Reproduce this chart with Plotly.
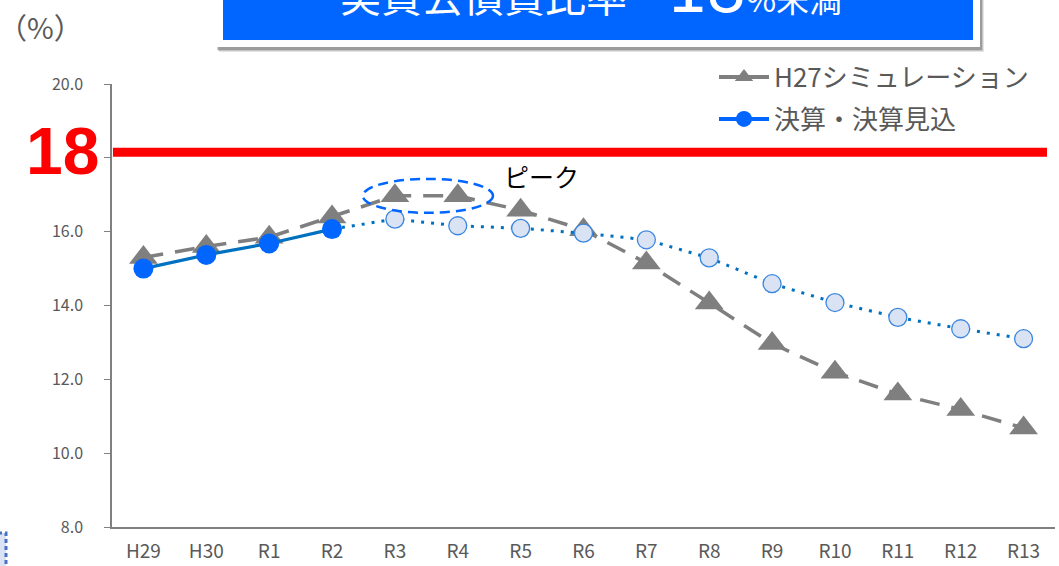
import plotly.graph_objects as go

# ---------------- data ----------------
categories = ["H29", "H30", "R1", "R2", "R3", "R4", "R5", "R6", "R7",
              "R8", "R9", "R10", "R11", "R12", "R13"]
sim_h27 = [15.3, 15.6, 15.85, 16.4, 16.97, 16.97, 16.58, 16.05, 15.15,
           14.07, 12.97, 12.19, 11.6, 11.18, 10.68]
kessan = [15.0, 15.37, 15.68, 16.07, 16.34, 16.16, 16.09, 15.96, 15.78,
          15.29, 14.59, 14.08, 13.68, 13.37, 13.1]
n_actual = 4           # H29..R2 are settled results; the rest are projections
limit_value = 18.15    # drawn "18" limit line
y_ticks = [8, 10, 12, 14, 16, 18, 20]
y_tick_text = [f"{v:.1f}" if v != 18 else "" for v in y_ticks]

name_sim = "H27シミュレーション"
name_kessan = "決算・決算見込"
title_text = "実質公債費比率"
unit_text = "（%）"
peak_text = "ピーク"

# ---------------- layout geometry ----------------
L, R, T, B = 112, 1055, 84, 527
W, H = 1059, 566


def px(x=None, y=None):
    """convert pixel position to paper coords"""
    xp = None if x is None else (x - L) / (R - L)
    yp = None if y is None else (B - y) / (B - T)
    return xp, yp


FONT = "Noto Sans CJK JP"
GREY_TXT = "#595959"

fig = go.Figure()

# H27 simulation (grey dashed, triangles)
fig.add_trace(go.Scatter(
    x=categories, y=sim_h27, mode="lines+markers",
    line=dict(color="#7f7f7f", width=3.5, dash="20px,12px"),
    marker=dict(symbol="triangle-up", size=25, color="#7f7f7f"),
    showlegend=False, cliponaxis=False))

# projection part of 決算 (dotted)
fig.add_trace(go.Scatter(
    x=categories[n_actual - 1:], y=kessan[n_actual - 1:], mode="lines",
    line=dict(color="#0070C0", width=3, dash="3px,7px"),
    showlegend=False, cliponaxis=False))
fig.add_trace(go.Scatter(
    x=categories[n_actual:], y=kessan[n_actual:], mode="markers",
    marker=dict(symbol="circle", size=18, color="#DAE3F3",
                line=dict(color="#3a86e0", width=1.3)),
    showlegend=False, cliponaxis=False))

# settled part of 決算 (solid)
fig.add_trace(go.Scatter(
    x=categories[:n_actual], y=kessan[:n_actual], mode="lines+markers",
    line=dict(color="#0070C0", width=3.2),
    marker=dict(symbol="circle", size=20, color="#0066FF"),
    showlegend=False, cliponaxis=False))

# legend-only entries
fig.add_trace(go.Scatter(
    x=[None], y=[None], mode="lines+markers", name=name_sim,
    line=dict(color="#7f7f7f", width=4),
    marker=dict(symbol="triangle-up", size=16, color="#7f7f7f"),
    legend="legend"))
fig.add_trace(go.Scatter(
    x=[None], y=[None], mode="lines+markers", name=name_kessan,
    line=dict(color="#0066FF", width=4),
    marker=dict(symbol="circle", size=16, color="#0066FF"),
    legend="legend2"))

shapes = []
annotations = []

# red limit line
shapes.append(dict(type="line", xref="paper", yref="y",
                   x0=0.001, x1=px(1047)[0], y0=limit_value, y1=limit_value,
                   line=dict(color="#FF0000", width=9), layer="above"))

# dashed ellipse around the peak
shapes.append(dict(type="circle", xref="x", yref="y",
                   x0=3.49, x1=5.56, y0=16.51, y1=17.43,
                   line=dict(color="#0066FF", width=2.5, dash="10px,6px"),
                   layer="above"))

# banner (shadow, white frame, blue box)
for off, op in [(4, 0.10), (3, 0.15), (2, 0.2)]:
    x0, y0 = px(215 + off, 48 + off)
    x1, _ = px(980 + off, 0)
    shapes.append(dict(type="rect", xref="paper", yref="paper",
                       x0=x0, x1=x1, y0=y0, y1=1.3, line_width=0,
                       fillcolor=f"rgba(0,0,0,{op})", layer="above"))
x0, y0 = px(215, 47)
x1, _ = px(980, 0)
shapes.append(dict(type="rect", xref="paper", yref="paper",
                   x0=x0, x1=x1, y0=y0, y1=1.3, line_width=0,
                   fillcolor="white", layer="above"))
x0, y0 = px(223, 40)
x1, _ = px(973, 0)
shapes.append(dict(type="rect", xref="paper", yref="paper",
                   x0=x0, x1=x1, y0=y0, y1=1.3, line_width=0,
                   fillcolor="#0066FF", layer="above"))

# small dashed element at lower-left corner
x0, y0 = px(-2, 570)
x1, y1 = px(6, 533)
shapes.append(dict(type="rect", xref="paper", yref="paper",
                   x0=x0, x1=x1, y0=y0, y1=y1,
                   line=dict(color="#4472C4", width=3, dash="4px,3px"),
                   fillcolor="#DAE3F3", layer="above"))

# banner text
bx, by = px(338, 34)
annotations.append(dict(
    xref="paper", yref="paper", x=bx, y=by, xanchor="left", yanchor="bottom",
    showarrow=False,
    text=(f"{title_text}　<span style='font-size:70px'>18</span>"
          f"<span style='font-size:33px'>%未満</span>"),
    font=dict(family=FONT, size=41, color="white")))

# big red 18
ax, ay = px(62, 151)
annotations.append(dict(
    xref="paper", yref="paper", x=ax, y=ay, xanchor="center", yanchor="middle",
    showarrow=False, text="<b>18</b>",
    font=dict(family="Liberation Sans", size=66, color="#FF0000")))

# unit label
ux, uy = px(40, 26)
annotations.append(dict(
    xref="paper", yref="paper", x=ux, y=uy, xanchor="center", yanchor="middle",
    showarrow=False, text=unit_text,
    font=dict(family=FONT, size=29, color=GREY_TXT)))

# peak label
kx, ky = px(541, 176)
annotations.append(dict(
    xref="paper", yref="paper", x=kx, y=ky, xanchor="center", yanchor="middle",
    showarrow=False, text=peak_text,
    font=dict(family=FONT, size=25, color="black")))

lx, ly1 = px(714, 77)
_, ly2 = px(714, 119)

fig.update_layout(
    width=W, height=H,
    margin=dict(l=L, r=W - R, t=T, b=H - B, pad=0),
    paper_bgcolor="white", plot_bgcolor="white",
    font=dict(family=FONT, color=GREY_TXT),
    xaxis=dict(type="category", range=[-0.5, len(categories) - 0.5],
               showline=True, linecolor="#808080", automargin=False,
               linewidth=1.5, showgrid=False, ticks="", zeroline=False,
               tickfont=dict(family=FONT, size=19, color=GREY_TXT),
               ticklabelstandoff=6),
    yaxis=dict(range=[8, 20], showline=True, linecolor="#808080",
               linewidth=1.5, showgrid=False, zeroline=False,
               automargin=False,
               ticks="outside", ticklen=6, tickcolor="#808080",
               tickvals=y_ticks, ticktext=y_tick_text,
               tickfont=dict(family=FONT, size=16, color=GREY_TXT),
               ticklabelstandoff=18),
    legend=dict(x=lx, y=ly1, xanchor="left", yanchor="middle",
                bgcolor="rgba(0,0,0,0)", itemwidth=50,
                font=dict(family=FONT, size=26, color=GREY_TXT)),
    legend2=dict(x=lx, y=ly2, xanchor="left", yanchor="middle",
                 bgcolor="rgba(0,0,0,0)", itemwidth=50,
                 font=dict(family=FONT, size=26, color=GREY_TXT)),
    shapes=shapes, annotations=annotations,
)

fig.write_html("out.html")
